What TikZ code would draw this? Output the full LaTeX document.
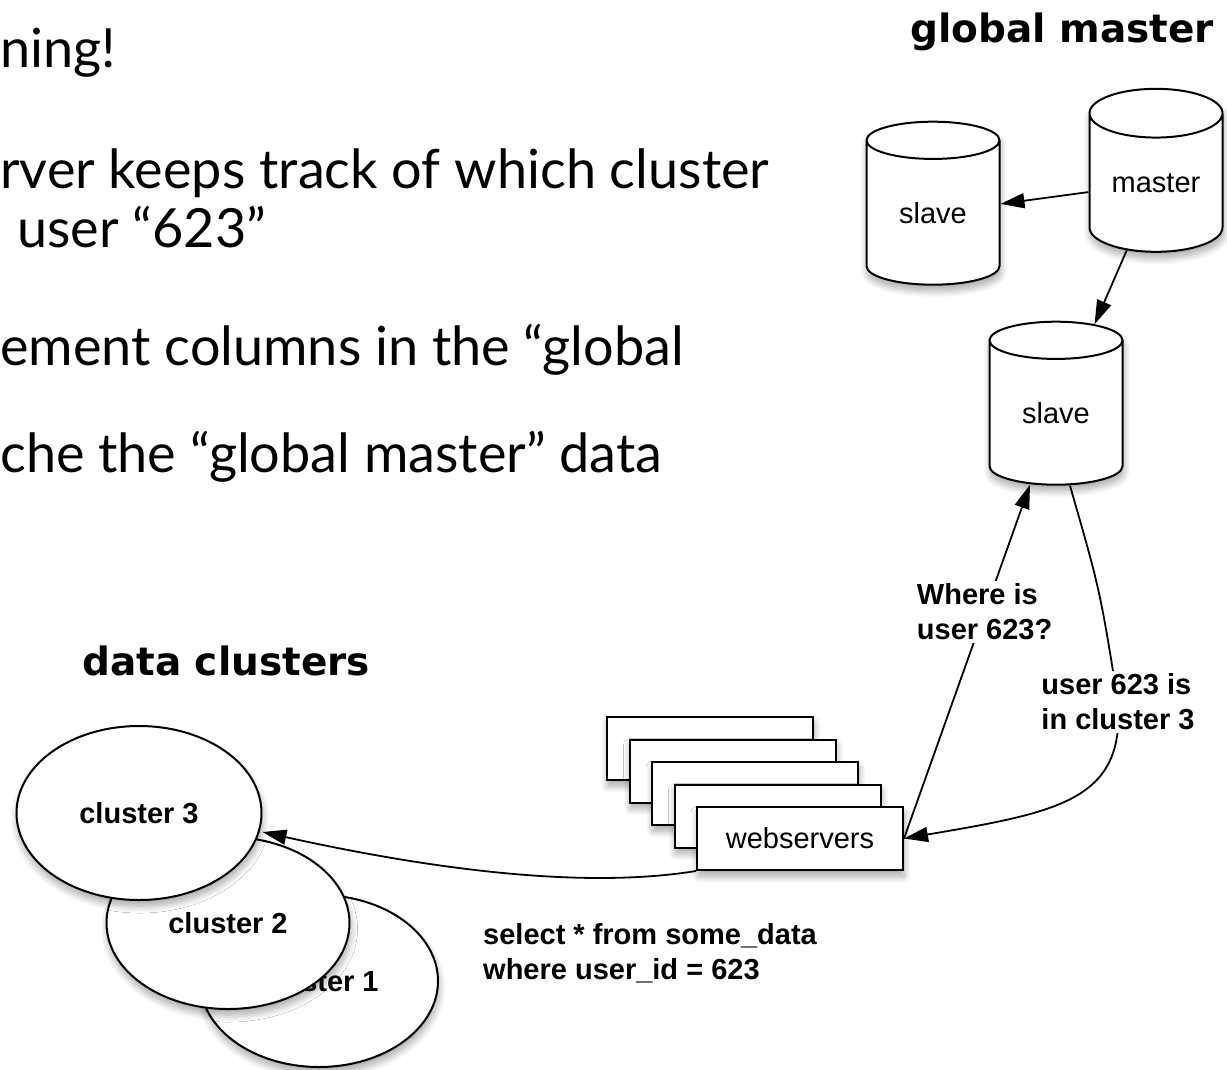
\documentclass[tikz,border=0pt]{standalone}
\usepackage{fontspec}
\setmainfont{Lato}
\newfontfamily\diafont{Liberation Sans}
\newfontfamily\headfont{DejaVu Sans}
\usetikzlibrary{shapes.geometric}
\usetikzlibrary{arrows.meta}
\usetikzlibrary{positioning}
\usetikzlibrary{shadows.blur}

\tikzset{
  shade/.style={blur shadow={shadow xshift=1pt,shadow yshift=-6pt,shadow blur radius=7pt,
    shadow blur steps=12,shadow opacity=35}},
  db/.style={cylinder,shape border rotate=90,aspect=0.55,draw,fill=white,line width=2pt,
    minimum width=133pt,minimum height=163pt,inner sep=0pt,shade,
    font=\diafont\fontsize{29}{35}\selectfont},
  srv/.style={rectangle,draw,fill=white,line width=2pt,minimum width=206pt,minimum height=63pt,
    inner sep=0pt,shade,font=\diafont\fontsize{29}{35}\selectfont},
  clus/.style={ellipse,draw,fill=white,line width=2pt,inner sep=0pt,shade,
    font=\diafont\bfseries\fontsize{29}{35}\selectfont},
  lbl/.style={fill=white,inner sep=3pt,align=left,font=\diafont\bfseries\fontsize{29}{35}\selectfont},
  conn/.style={-{Triangle[length=24pt,width=15pt]},line width=1.8pt},
  slide/.style={anchor=base west,inner sep=0pt,font=\fontsize{54}{60}\selectfont},
  head/.style={anchor=base west,inner sep=0pt,font=\headfont\bfseries\fontsize{39}{45}\selectfont}
}

\begin{document}
\begin{tikzpicture}[x=1pt,y=-1pt]
  \useasboundingbox (0,0) rectangle (1227,1069);

  % slide text, cut at the left edge
  \node[slide] (t1) at (0,67) {ning!};
  \node[slide] (t2) at (0,188) {rver keeps track of which cluster};
  \node[slide] (t3) at (17,247) {user “623”};
  \node[slide] (t4) at (0,365) {ement columns in the “global};
  \node[slide] (t5) at (0,472) {che the “global master” data};

  \node[head] (gmhead) at (910,42) {global master};
  \node[head] (dchead) at (82,675) {data clusters};

  % global master databases
  \node[db] (master) at (1156,183) {master};
  \node[db] (slave1) at (933,213) {slave};
  \node[db] (slave2) at (1056,413) {slave};

  % webservers
  \foreach \i in {1,...,4}
    \node[srv] (ws\i) at ({687.5+22.5*\i},{726+22.5*\i}) {};
  \node[srv] (web) at (800,838.5) {webservers};

  % data clusters
  \node[clus,minimum width=238pt,minimum height=172pt] (c1) at (319,981) {cluster 1};
  \node[clus,minimum width=243pt,minimum height=172pt] (c2) at (228,923) {cluster 2};
  \node[clus,minimum width=245pt,minimum height=174pt] (c3) at (139,813) {cluster 3};

  \draw[conn] (master) -- (slave1);
  \draw[conn] (master) -- (slave2);
  \draw[conn] (web.east) -- node[lbl,pos=0.64]{Where is\\user 623?} ([xshift=-26pt,yshift=1pt]slave2.south);
  \draw[conn] ([xshift=14pt]slave2.south) .. controls (1100,590) .. (1118,702)
    node[lbl]{user 623 is\\in cluster 3}
    .. controls (1125,800) and (1060,812) .. (web.east);
  \draw[conn] (web.south west) .. controls (610,885) and (480,880) .. ([yshift=-19pt]c3.east);

  \node[lbl,anchor=base west,fill=none,inner sep=0pt] (query) at (483,979) {select * from some\_data\\where user\_id = 623};
\end{tikzpicture}
\end{document}
